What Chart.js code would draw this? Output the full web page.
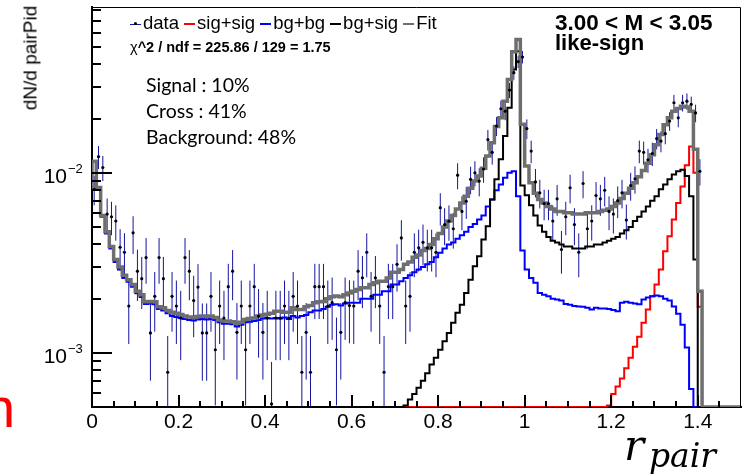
<!DOCTYPE html>
<html>
<head>
<meta charset="utf-8">
<script src="https://cdn.jsdelivr.net/npm/chart.js@4.4.1/dist/chart.umd.min.js"></script>
<style>
  body { margin: 0; background: #fff; }
  #wrap { position: relative; width: 744px; height: 476px; overflow: hidden; font-family: 'Liberation Sans', Arial, sans-serif; }
  #c { position: absolute; left: 0; top: 0; }
  .txt { position: absolute; white-space: nowrap; line-height: 1; color: #000; }
  .leg { display: flex; align-items: center; font-size: 18.5px; }
  .leg .item { display: flex; align-items: center; margin-right: 5px; }
  .leg .mk { display: inline-block; width: 11px; height: 2px; margin-right: 2px; position: relative; top: 1px; }
  .leg .mk.pt { background: #1414a0; height: 1px; }
  .leg .mk.pt::after { content: ''; position: absolute; left: 4px; top: -1.5px; width: 3px; height: 3px; border-radius: 50%; background: #000; }
  .note { font-family: Lato, 'Open Sans', sans-serif; font-size: 19.5px; }
  .math { font-family: 'DejaVu Serif', serif; font-style: italic; }
</style>
</head>
<body>
<div id="wrap">
  <canvas id="c" width="744" height="476"></canvas>

  <div class="txt" style="left:21px; top:58px; font-size:19px; transform: translate(-50%, -50%) rotate(-90deg); transform-origin: center; margin-left:9px;">dN/d pairPid</div>

  <div class="txt leg" style="left:130px; top:14px;">
    <span class="item"><span class="mk pt"></span>data</span>
    <span class="item"><span class="mk" style="background:#ff0000"></span>sig+sig</span>
    <span class="item"><span class="mk" style="background:#0000ff"></span>bg+bg</span>
    <span class="item"><span class="mk" style="background:#000000"></span>bg+sig</span>
    <span class="item"><span class="mk" style="background:#6e6e6e"></span>Fit</span>
  </div>
  <div class="txt" style="left:130px; top:40px; font-size:14.5px; font-weight:bold;"><span style="font-weight:normal">&chi;</span>^2 / ndf = 225.86 / 129 = 1.75</div>

  <div class="txt note" style="left:146px; top:75px;">Signal : 10%</div>
  <div class="txt note" style="left:146px; top:101px;">Cross : 41%</div>
  <div class="txt note" style="left:146px; top:127px;">Background: 48%</div>

  <div class="txt" style="left:555px; top:12px; font-size:22.5px; font-weight:bold;">3.00 &lt; M &lt; 3.05</div>
  <div class="txt" style="left:555px; top:32px; font-size:22px; font-weight:bold;">like-sign</div>

  <div class="txt math" style="left:624px; top:425px; font-size:42px;">r</div>
  <div class="txt math" style="left:649px; top:439px; font-size:33px;">pair</div>

  <div class="txt" style="left:-16px; top:380px; font-size:56px; color:#ff0000;">n</div>
</div>

<script>
// binning of the r_pair histograms
const binWidth = 0.01;
const yMin = 5e-4;
const yMax = 0.0834;

const xTickValues = [0, 0.2, 0.4, 0.6, 0.8, 1, 1.2, 1.4];
const xTickLabels = ['0', '0.2', '0.4', '0.6', '0.8', '1', '1.2', '1.4'];
const yLabelDecades = [-3, -2];

// total fit
const fitValues = [
  0.0080, 0.0116, 0.0083, 0.0058, 0.0047, 0.0039, 0.0033, 0.0030, 0.0027, 0.00255,
  0.0024, 0.0022, 0.0021, 0.00192, 0.00193, 0.00192, 0.0018, 0.00178, 0.00172, 0.00168,
  0.00166, 0.00163, 0.00160, 0.00158, 0.00157, 0.00159, 0.00160, 0.00159, 0.00160, 0.00157,
  0.00152, 0.00150, 0.00150, 0.00149, 0.00146, 0.00148, 0.00153, 0.00155, 0.00156, 0.00160,
  0.00162, 0.00164, 0.00166, 0.00170, 0.00170, 0.00168, 0.00168, 0.00178, 0.00174, 0.00174,
  0.00180, 0.00183, 0.00190, 0.00192, 0.00193, 0.00200, 0.00205, 0.00207, 0.00205, 0.00210,
  0.00215, 0.00220, 0.00225, 0.00230, 0.00230, 0.00240, 0.00245, 0.00250, 0.00250, 0.00260,
  0.0028, 0.0028, 0.0029, 0.0031, 0.0032, 0.0034, 0.0035, 0.0037, 0.0038, 0.0040,
  0.0043, 0.0046, 0.0050, 0.0054, 0.0058, 0.0063, 0.0068, 0.0074, 0.0082, 0.0090,
  0.0096, 0.0106, 0.0124, 0.0147, 0.0181, 0.0202, 0.0250, 0.0330, 0.0470, 0.0550,
  0.0186, 0.0109, 0.0088, 0.0077, 0.0071, 0.0068, 0.0065, 0.0063, 0.0061, 0.0061,
  0.0060, 0.0060, 0.0059, 0.0059, 0.0059, 0.0060, 0.0060, 0.0060, 0.0061, 0.0062,
  0.0063, 0.0065, 0.0068, 0.0072, 0.0077, 0.0082, 0.0088, 0.0095, 0.0103, 0.0113,
  0.0126, 0.0143, 0.0163, 0.0185, 0.0202, 0.0220, 0.0228, 0.0234, 0.0232, 0.0220,
  0.0135, 0.0022, 0, 0, 0, 0, 0, 0, 0, 0
];

// bg+bg component
const bgbgValues = [
  0.0079, 0.0115, 0.0082, 0.0057, 0.0046, 0.0038, 0.0032, 0.0029, 0.0026, 0.00248,
  0.00233, 0.00214, 0.00204, 0.00187, 0.00188, 0.00186, 0.00175, 0.00172, 0.00166, 0.00160,
  0.00158, 0.00156, 0.00154, 0.00152, 0.00151, 0.00153, 0.00154, 0.00153, 0.00154, 0.00152,
  0.00148, 0.00145, 0.00145, 0.00144, 0.00140, 0.00143, 0.00148, 0.00149, 0.00150, 0.00152,
  0.00155, 0.00156, 0.00155, 0.00156, 0.00155, 0.00157, 0.00154, 0.00160, 0.00157, 0.00160,
  0.00162, 0.00168, 0.00172, 0.00172, 0.00175, 0.00180, 0.00185, 0.00186, 0.00183, 0.00188,
  0.0019, 0.0019, 0.0019, 0.0020, 0.0020, 0.0020, 0.0021, 0.0021, 0.0022, 0.0022,
  0.0024, 0.0024, 0.0025, 0.0026, 0.0027, 0.0028, 0.0029, 0.0030, 0.0031, 0.0032,
  0.0034, 0.0036, 0.0038, 0.0040, 0.0041, 0.0043, 0.0045, 0.0047, 0.0050, 0.0052,
  0.0055, 0.0058, 0.0065, 0.0071, 0.0080, 0.0086, 0.0094, 0.0100, 0.0102, 0.0074,
  0.0037, 0.0029, 0.0026, 0.00245, 0.00215, 0.0021, 0.00206, 0.00200, 0.00198, 0.00195,
  0.00187, 0.00185, 0.00182, 0.00181, 0.00180, 0.00178, 0.00174, 0.00178, 0.00176, 0.00176,
  0.00175, 0.00173, 0.00170, 0.00190, 0.00192, 0.00190, 0.00188, 0.00186, 0.00198, 0.00203,
  0.00206, 0.00208, 0.00206, 0.00200, 0.00195, 0.00181, 0.00165, 0.00143, 0.00107, 0.00063,
  0, 0, 0, 0, 0, 0, 0, 0, 0, 0
];

// bg+sig component
const bgsigValues = [
  0, 0, 0, 0, 0, 0, 0, 0, 0, 0,
  0, 0, 0, 0, 0, 0, 0, 0, 0, 0,
  0, 0, 0, 0, 0, 0, 0, 0, 0, 0,
  0, 0, 0, 0, 0, 0, 0, 0, 0, 0,
  0, 0, 0, 0, 0, 0, 0, 0, 0, 0,
  0, 0, 0, 0, 0, 0, 0, 0, 0, 0,
  0, 0, 0, 0, 0, 0, 0, 0, 0, 0,
  0, 0, 0, 0.00051, 0.00055, 0.00059, 0.00064, 0.00070, 0.00077, 0.00086,
  0.00094, 0.00104, 0.00116, 0.00129, 0.00147, 0.00167, 0.00185, 0.00215, 0.00255, 0.00303,
  0.00344, 0.00426, 0.00505, 0.0071, 0.0092, 0.0119, 0.0160, 0.0230, 0.0375, 0.0473,
  0.0085, 0.0075, 0.0066, 0.0058, 0.0051, 0.0047, 0.0044, 0.0042, 0.0041, 0.0040,
  0.0039, 0.0039, 0.0038, 0.0038, 0.0038, 0.0039, 0.0039, 0.0040, 0.0040, 0.0041,
  0.0042, 0.0043, 0.0044, 0.0046, 0.0048, 0.0050, 0.0054, 0.0057, 0.0061, 0.0065,
  0.0070, 0.0074, 0.0081, 0.0086, 0.0092, 0.0098, 0.0102, 0.0104, 0.0096, 0.0074,
  0.0033, 0, 0, 0, 0, 0, 0, 0, 0, 0
];

// sig+sig component
const sigsigValues = [
  0, 0, 0, 0, 0, 0, 0, 0, 0, 0,
  0, 0, 0, 0, 0, 0, 0, 0, 0, 0,
  0, 0, 0, 0, 0, 0, 0, 0, 0, 0,
  0, 0, 0, 0, 0, 0, 0, 0, 0, 0,
  0, 0, 0, 0, 0, 0, 0, 0, 0, 0,
  0, 0, 0, 0, 0, 0, 0, 0, 0, 0,
  0, 0, 0, 0, 0, 0, 0, 0, 0, 0,
  0, 0, 0, 0, 0, 0, 0, 0, 0, 0,
  0, 0, 0, 0, 0, 0, 0, 0, 0, 0,
  0, 0, 0, 0, 0, 0, 0, 0, 0, 0,
  0, 0, 0, 0, 0, 0, 0, 0, 0, 0,
  0, 0, 0, 0, 0, 0, 0, 0, 0, 0,
  0.00051, 0.00059, 0.00065, 0.00072, 0.00082, 0.00094, 0.00108, 0.00123, 0.00147, 0.00174,
  0.00206, 0.0024, 0.0029, 0.00367, 0.00444, 0.0055, 0.0068, 0.0084, 0.0110, 0.0140,
  0.0100, 0.0018, 0, 0, 0, 0, 0, 0, 0, 0
];

// measured pairs, one per bin from r = 0 to 1.41
const dataValues = [
  0.0081, 0.0123, 0.0107, 0.0059, 0.0057, 0.0054, 0.00386, 0.00362, 0.00182, 0.00464,
  0.00284, 0.00258, 0.00338, 0.00129, 0.00206, 0.00338, 0.00258, 0.00078, 0.00206, 0.00182,
  0.00156, 0.00338, 0.00284, 0.00195, 0.00232, 0.00129, 0.00129, 0.00206, 0.00104, 0.00182,
  0.00156, 0.00233, 0.00284, 0.0013, 0.00182, 0.00104, 0.00182, 0.00233, 0.0016, 0.0013,
  0.00156, 0.00052, 0.00156, 0.00156, 0.00182, 0.00156, 0.00206, 0.00182, 0.00078, 0.0013,
  0.00078, 0.00233, 0.00233, 0.00233, 0.00182, 0.0019, 0.00104, 0.0013, 0.0019, 0.00183,
  0.00182, 0.00284, 0.00261, 0.00362, 0.00206, 0.00261, 0.00182, 0.00078, 0.00233, 0.00233,
  0.0031, 0.00435, 0.00182, 0.00206, 0.00362, 0.00383, 0.00411, 0.00383, 0.00383, 0.00362,
  0.0064, 0.00516, 0.00539, 0.00489, 0.0097, 0.0061, 0.00695, 0.0092, 0.0100, 0.0090,
  0.0105, 0.0153, 0.0130, 0.0182, 0.0227, 0.0220, 0.0288, 0.0360, 0.0415, 0.0440,
  0.0176, 0.0132, 0.0089, 0.00774, 0.00675, 0.00675, 0.0054, 0.00717, 0.00375, 0.0057,
  0.00826, 0.00516, 0.00362, 0.00872, 0.00489, 0.0054, 0.00748, 0.00717, 0.0080, 0.0061,
  0.0059, 0.0070, 0.00774, 0.00546, 0.0085, 0.00926, 0.0132, 0.0130, 0.0118, 0.0128,
  0.0155, 0.0150, 0.0165, 0.0194, 0.0245, 0.0202, 0.0245, 0.0250, 0.0240, 0.0215,
  0.0102
];

const dataErrors = [
  0.0015, 0.0018, 0.0017, 0.0013, 0.0012, 0.0012, 0.0010, 0.0010, 0.0007, 0.0011,
  0.0009, 0.00083, 0.00096, 0.00059, 0.00075, 0.00096, 0.00083, 0.00046, 0.00075, 0.0007,
  0.00065, 0.00096, 0.00088, 0.00073, 0.00079, 0.00059, 0.00059, 0.00075, 0.00053, 0.0007,
  0.00065, 0.00079, 0.00088, 0.00059, 0.0007, 0.00053, 0.0007, 0.00079, 0.00066, 0.00059,
  0.00065, 0.00037, 0.00065, 0.00065, 0.0007, 0.00065, 0.00075, 0.0007, 0.00046, 0.00059,
  0.00046, 0.00079, 0.00079, 0.00079, 0.0007, 0.00072, 0.00053, 0.00059, 0.00072, 0.0007,
  0.0007, 0.00088, 0.00084, 0.00099, 0.00075, 0.00084, 0.0007, 0.00046, 0.00079, 0.00079,
  0.00091, 0.0011, 0.0007, 0.00075, 0.00099, 0.0010, 0.00105, 0.0010, 0.0010, 0.00099,
  0.0013, 0.0012, 0.0012, 0.0011, 0.0016, 0.0013, 0.0014, 0.0016, 0.0016, 0.0016,
  0.0017, 0.0020, 0.0019, 0.0022, 0.0025, 0.0024, 0.0028, 0.0031, 0.0033, 0.0035,
  0.0022, 0.0019, 0.0016, 0.0014, 0.0013, 0.0013, 0.0012, 0.0014, 0.0010, 0.0012,
  0.0015, 0.0012, 0.00099, 0.0015, 0.0011, 0.0012, 0.0014, 0.0014, 0.0015, 0.0013,
  0.0013, 0.0014, 0.0014, 0.0012, 0.0015, 0.0016, 0.0019, 0.0019, 0.0018, 0.0019,
  0.0020, 0.0020, 0.0021, 0.0023, 0.0026, 0.0023, 0.0026, 0.0026, 0.0025, 0.0024,
  0.0017
];

Chart.defaults.font.family = "'Liberation Sans', Arial, sans-serif";

// histogram as a step line through the bin edges; empty bins sit on the axis floor
function stepPoints(values) {
  const pts = values.map((v, i) => ({ x: i * binWidth, y: Math.max(v, yMin) }));
  pts.push({ x: values.length * binWidth, y: Math.max(values[values.length - 1], yMin) });
  return pts;
}

function histo(label, values, color, width, order) {
  return {
    label: label,
    data: stepPoints(values),
    borderColor: color,
    borderWidth: width,
    stepped: 'after',
    pointRadius: 0,
    fill: false,
    borderJoinStyle: 'miter',
    order: order
  };
}

const dataPoints = dataValues.map((v, i) => ({ x: (i + 0.5) * binWidth, y: v }));

// vertical error bars under the data markers
const errorBars = {
  id: 'errorBars',
  beforeDatasetsDraw(chart) {
    const { ctx, chartArea: a, scales: { x, y } } = chart;
    ctx.save();
    ctx.beginPath();
    ctx.rect(a.left, a.top, a.right - a.left, a.bottom - a.top);
    ctx.clip();
    ctx.strokeStyle = '#1414a0';
    ctx.lineWidth = 1;
    dataValues.forEach((v, i) => {
      const px = x.getPixelForValue((i + 0.5) * binWidth);
      const lo = Math.max(v - dataErrors[i], yMin / 2);
      ctx.beginPath();
      ctx.moveTo(px, y.getPixelForValue(lo));
      ctx.lineTo(px, y.getPixelForValue(v + dataErrors[i]));
      ctx.stroke();
    });
    ctx.restore();
  }
};

// frame, inward tick marks and the power-of-ten labels
const frameAxes = {
  id: 'frameAxes',
  afterDraw(chart) {
    const { ctx, chartArea: a, scales: { x, y } } = chart;
    ctx.save();
    ctx.strokeStyle = '#000';
    ctx.lineWidth = 1;
    ctx.beginPath();
    ctx.moveTo(a.left, a.top + 0.5);
    ctx.lineTo(a.right - 0.5, a.top + 0.5);
    ctx.lineTo(a.right - 0.5, a.bottom);
    ctx.stroke();

    ctx.lineWidth = 2;
    for (let k = 1; k < 30; k++) {
      const px = Math.round(x.getPixelForValue(k * 0.05));
      const len = k % 4 === 0 ? 12 : 6;
      ctx.beginPath();
      ctx.moveTo(px, a.bottom);
      ctx.lineTo(px, a.bottom - len);
      ctx.stroke();
    }
    for (let d = -4; d <= -1; d++) {
      for (let m = 1; m <= 9; m++) {
        const v = m * Math.pow(10, d);
        if (v < yMin || v > yMax) continue;
        const py = Math.round(y.getPixelForValue(v));
        ctx.beginPath();
        ctx.moveTo(a.left, py);
        ctx.lineTo(a.left + (m === 1 ? 20 : 9), py);
        ctx.stroke();
      }
    }

    ctx.fillStyle = '#000';
    yLabelDecades.forEach(d => {
      const py = y.getPixelForValue(Math.pow(10, d));
      ctx.font = "21px 'Liberation Sans', Arial, sans-serif";
      ctx.textAlign = 'right';
      ctx.textBaseline = 'alphabetic';
      ctx.fillText('10', 67, py + 10);
      ctx.font = "13px 'Liberation Sans', Arial, sans-serif";
      ctx.textAlign = 'left';
      ctx.fillText('\u2212' + (-d), 68, py + 0);
    });
    ctx.restore();
  }
};

new Chart(document.getElementById('c'), {
  type: 'line',
  data: {
    datasets: [
      {
        label: 'data',
        data: dataPoints,
        showLine: false,
        pointRadius: 1.6,
        pointHoverRadius: 1.6,
        pointBackgroundColor: '#000',
        pointBorderWidth: 0,
        order: 0
      },
      histo('Fit', fitValues, '#6e6e6e', 3.5, 1),
      histo('bg+sig', bgsigValues, '#000000', 2, 2),
      histo('bg+bg', bgbgValues, '#0000ff', 2, 3),
      histo('sig+sig', sigsigValues, '#ff0000', 2, 4)
    ]
  },
  options: {
    responsive: false,
    animation: false,
    events: [],
    layout: { padding: { top: 7, right: 3, left: 0, bottom: 0 } },
    plugins: { legend: { display: false }, tooltip: { enabled: false } },
    scales: {
      x: {
        type: 'linear',
        min: 0,
        max: 1.5,
        afterBuildTicks: s => { s.ticks = xTickValues.map(v => ({ value: v })); },
        afterFit: s => { s.height = 69; },
        ticks: {
          callback: (v, i) => xTickLabels[i],
          font: { size: 21 },
          color: '#000',
          padding: 3,
          maxRotation: 0,
          autoSkip: false
        },
        grid: { display: false, drawTicks: false },
        border: { color: '#000', width: 2 }
      },
      y: {
        type: 'logarithmic',
        min: yMin,
        max: yMax,
        afterFit: s => { s.width = 92; },
        ticks: { display: false },
        grid: { display: false, drawTicks: false },
        border: { color: '#000', width: 2 }
      }
    }
  },
  plugins: [errorBars, frameAxes]
});
</script>
</body>
</html>
